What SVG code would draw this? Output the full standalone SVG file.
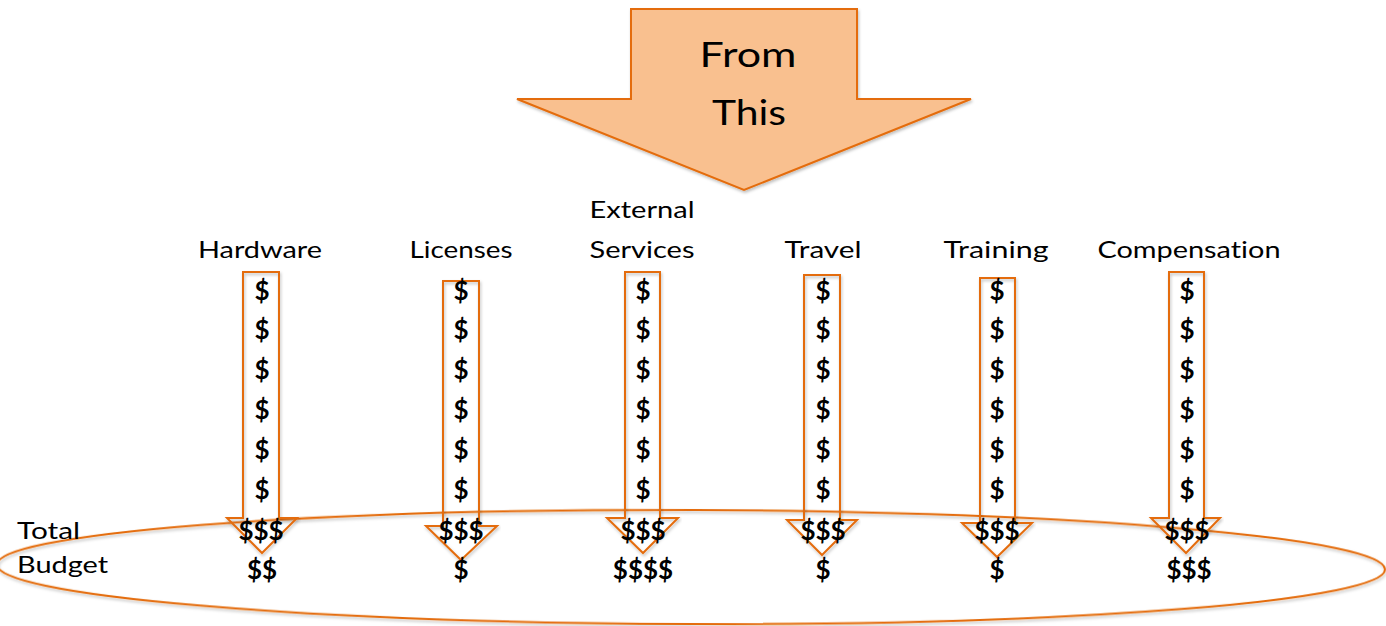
<svg xmlns="http://www.w3.org/2000/svg" width="1386" height="626" viewBox="0 0 1386 626">
  <defs>
    <filter id="sh" x="-5%" y="-20%" width="110%" height="140%">
      <feDropShadow dx="1" dy="2" stdDeviation="1.5" flood-color="#000" flood-opacity="0.25"/>
    </filter>
    <style>
      .lbl { font-family: Lato, "Open Sans", "Liberation Sans", sans-serif; font-size: 23px; fill: #000; text-anchor: middle; font-variant-ligatures: none; }
      .big { font-family: Lato, "Open Sans", "Liberation Sans", sans-serif; font-size: 35px; fill: #000; text-anchor: middle; }
      .d { font-family: Lato, "Open Sans", "Liberation Sans", sans-serif; font-size: 26px; font-weight: bold; fill: #000; text-anchor: middle; }
      .arr { fill: none; stroke: #E46C0A; stroke-width: 2; stroke-linejoin: miter; }
      .bigarr { fill: #F9C08F; stroke: #E46C0A; stroke-width: 2; }
      .ell { fill: none; stroke: #E46C0A; stroke-width: 2; }
    </style>
  </defs>
  <rect width="1386" height="626" fill="#fff"/>

  <g id="from-this">
    <path class="bigarr" filter="url(#sh)" d="M631,9 H857 V99 H971 L744,190 L517,99 H631 Z"/>
    <text class="big" x="748" y="67" textLength="97" lengthAdjust="spacingAndGlyphs">From</text>
    <text class="big" x="749" y="125" textLength="74" lengthAdjust="spacingAndGlyphs">This</text>
  </g>

  <g id="total-budget">
    <ellipse class="ell" filter="url(#sh)" cx="691" cy="567" rx="694" ry="57" transform="rotate(0.2 691 567)"/>
    <text class="lbl" x="48.5" y="539" textLength="63" lengthAdjust="spacingAndGlyphs">Total</text>
    <text class="lbl" x="62.5" y="573" textLength="91" lengthAdjust="spacingAndGlyphs">Budget</text>
  </g>

  <g id="connectors">
    <path class="arr" filter="url(#sh)" d="M243,272 H279 V518 H297 L262,553 L227,518 H243 Z"/>
    <path class="arr" filter="url(#sh)" d="M443,281 H479 V526 H497 L461,560 L426,526 H443 Z"/>
    <path class="arr" filter="url(#sh)" d="M625,272 H660 V518 H678 L643,553 L607,518 H625 Z"/>
    <path class="arr" filter="url(#sh)" d="M804,275 H840 V520 H857 L822,555 L787,520 H804 Z"/>
    <path class="arr" filter="url(#sh)" d="M980,278 H1015 V523 H1032 L997,557 L962,523 H980 Z"/>
    <path class="arr" filter="url(#sh)" d="M1169,272 H1204 V518 H1220 L1186,553 L1151,518 H1169 Z"/>
  </g>

  <g id="hardware">
    <text class="lbl" x="260" y="258" textLength="124" lengthAdjust="spacingAndGlyphs">Hardware</text>
    <text class="d" x="262" y="300">$</text>
    <text class="d" x="262" y="339">$</text>
    <text class="d" x="262" y="379">$</text>
    <text class="d" x="262" y="419">$</text>
    <text class="d" x="262" y="459">$</text>
    <text class="d" x="262" y="499">$</text>
    <text class="d" x="261" y="540">$$$</text>
    <text class="d" x="262" y="579">$$</text>
  </g>

  <g id="licenses">
    <text class="lbl" x="461" y="258" textLength="103" lengthAdjust="spacingAndGlyphs">Licenses</text>
    <text class="d" x="461" y="300">$</text>
    <text class="d" x="461" y="339">$</text>
    <text class="d" x="461" y="379">$</text>
    <text class="d" x="461" y="419">$</text>
    <text class="d" x="461" y="459">$</text>
    <text class="d" x="461" y="499">$</text>
    <text class="d" x="461" y="540">$$$</text>
    <text class="d" x="461" y="579">$</text>
  </g>

  <g id="external-services">
    <text class="lbl" x="642" y="218" textLength="105" lengthAdjust="spacingAndGlyphs">External</text>
    <text class="lbl" x="642" y="258" textLength="105" lengthAdjust="spacingAndGlyphs">Services</text>
    <text class="d" x="643" y="300">$</text>
    <text class="d" x="643" y="339">$</text>
    <text class="d" x="643" y="379">$</text>
    <text class="d" x="643" y="419">$</text>
    <text class="d" x="643" y="459">$</text>
    <text class="d" x="643" y="499">$</text>
    <text class="d" x="643" y="540">$$$</text>
    <text class="d" x="643" y="579">$$$$</text>
  </g>

  <g id="travel">
    <text class="lbl" x="823" y="258" textLength="77" lengthAdjust="spacingAndGlyphs">Travel</text>
    <text class="d" x="823" y="300">$</text>
    <text class="d" x="823" y="339">$</text>
    <text class="d" x="823" y="379">$</text>
    <text class="d" x="823" y="419">$</text>
    <text class="d" x="823" y="459">$</text>
    <text class="d" x="823" y="499">$</text>
    <text class="d" x="823" y="540">$$$</text>
    <text class="d" x="823" y="579">$</text>
  </g>

  <g id="training">
    <text class="lbl" x="996" y="258" textLength="105" lengthAdjust="spacingAndGlyphs">Training</text>
    <text class="d" x="997" y="300">$</text>
    <text class="d" x="997" y="339">$</text>
    <text class="d" x="997" y="379">$</text>
    <text class="d" x="997" y="419">$</text>
    <text class="d" x="997" y="459">$</text>
    <text class="d" x="997" y="499">$</text>
    <text class="d" x="997" y="540">$$$</text>
    <text class="d" x="997" y="579">$</text>
  </g>

  <g id="compensation">
    <text class="lbl" x="1189" y="258" textLength="183" lengthAdjust="spacingAndGlyphs">Compensation</text>
    <text class="d" x="1187" y="300">$</text>
    <text class="d" x="1187" y="339">$</text>
    <text class="d" x="1187" y="379">$</text>
    <text class="d" x="1187" y="419">$</text>
    <text class="d" x="1187" y="459">$</text>
    <text class="d" x="1187" y="499">$</text>
    <text class="d" x="1187" y="540">$$$</text>
    <text class="d" x="1189" y="579">$$$</text>
  </g>
</svg>
